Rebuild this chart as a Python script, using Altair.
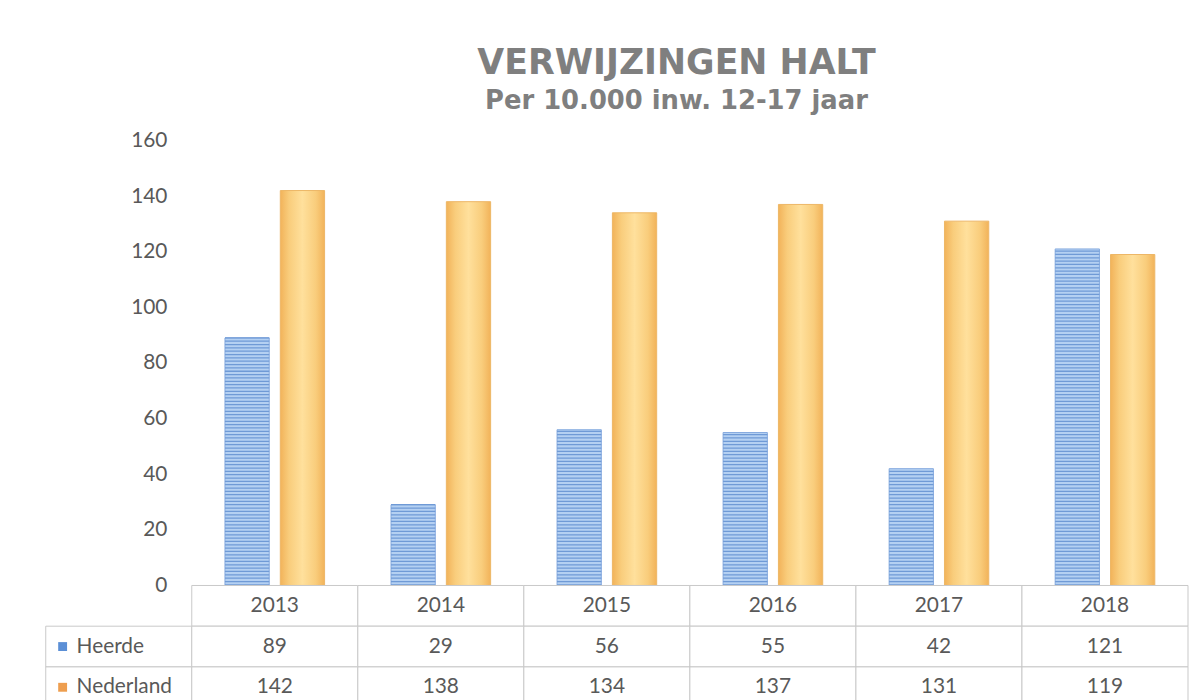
import altair as alt
import pandas as pd

# ---- data ----
years = ["2013", "2014", "2015", "2016", "2017", "2018"]
heerde = [89, 29, 56, 55, 42, 121]
nederland = [142, 138, 134, 137, 131, 119]
series = ["Heerde", "Nederland"]
rows = ["Jaar", "Heerde", "Nederland"]
y_ticks = [0, 20, 40, 60, 80, 100, 120, 140, 160]

bars_df = pd.DataFrame({
    "jaar": years * 2,
    "reeks": ["Heerde"] * len(years) + ["Nederland"] * len(years),
    "waarde": heerde + nederland,
})
table_df = pd.DataFrame({
    "jaar": years * 3,
    "rij": ["Jaar"] * len(years) + ["Heerde"] * len(years) + ["Nederland"] * len(years),
    "tekst": years + [str(v) for v in heerde] + [str(v) for v in nederland],
})
label_df = pd.DataFrame({"rij": series})

GRAY = "#595959"
LINE = "#C9C9C9"
FONT = "Lato"

# ---- bar chart ----
x_enc = alt.X("jaar:N", scale=alt.Scale(domain=years, paddingInner=0.4, paddingOuter=0.2), axis=None)
xo_enc = alt.XOffset("reeks:N", scale=alt.Scale(domain=series, paddingInner=0.2, paddingOuter=0))
y_scale = alt.Scale(domain=[0, 160], nice=False, zero=True)
y_axis = alt.Axis(values=y_ticks, grid=False, ticks=False, domain=False, labelPadding=25,
                  labelFlush=False, labelFontSize=21, labelColor=GRAY, labelFont=FONT, title=None)

base = alt.Chart(bars_df)

blue = base.transform_filter("datum.reeks === 'Heerde'").mark_bar(
    fill="#B4D0F2", stroke="#86AADF", strokeWidth=1
).encode(x=x_enc, xOffset=xo_enc, y=alt.Y("waarde:Q", scale=y_scale, axis=y_axis))

stripes = base.transform_filter("datum.reeks === 'Heerde'").transform_calculate(
    s="sequence(0, datum.waarde, 1.2)"
).transform_flatten(["s"]).transform_calculate(
    s2="datum.s + 0.45"
).mark_bar(fill="#6F9AD6").encode(
    x=x_enc, xOffset=xo_enc, y=alt.Y("s:Q", scale=y_scale, axis=y_axis), y2="s2:Q"
)

orange_fill = alt.Gradient(
    gradient="linear", x1=0, x2=1, y1=0, y2=0,
    stops=[
        alt.GradientStop(color="#F2B35A", offset=0),
        alt.GradientStop(color="#F9CD7C", offset=0.2),
        alt.GradientStop(color="#FFE09C", offset=0.5),
        alt.GradientStop(color="#F9CD7C", offset=0.8),
        alt.GradientStop(color="#F2B35A", offset=1),
    ],
)
orange = base.transform_filter("datum.reeks === 'Nederland'").mark_bar(
    fill=orange_fill, stroke="#EDB666", strokeWidth=1
).encode(x=x_enc, xOffset=xo_enc, y=alt.Y("waarde:Q", scale=y_scale, axis=y_axis))

top = alt.layer(blue, stripes, orange).properties(width=1003, height=448)

spacer = alt.Chart(label_df).mark_text(opacity=0).encode(text=alt.value("")).properties(width=147, height=448)

# ---- data table ----
tx = alt.X("jaar:N", scale=alt.Scale(domain=years, paddingInner=0, paddingOuter=0), axis=None)
ty = alt.Y("rij:N", scale=alt.Scale(domain=rows, paddingInner=0, paddingOuter=0), axis=None)
cells = alt.Chart(table_df).mark_rect(fill="white", stroke=LINE, strokeWidth=1).encode(x=tx, y=ty)
texts = alt.Chart(table_df).mark_text(font=FONT, fontSize=21, color=GRAY).encode(x=tx, y=ty, text="tekst:N")
table = alt.layer(cells, texts).properties(width=1003, height=123)

lcells = alt.Chart(label_df).mark_rect(fill="white", stroke=LINE, strokeWidth=1).encode(y=ty)
squares = alt.Chart(label_df).mark_square(size=80, opacity=1).encode(
    x=alt.value(17), y=ty,
    color=alt.Color("rij:N", scale=alt.Scale(domain=series, range=["#5B8FD6", "#EE9E4F"]), legend=None),
)
names = alt.Chart(label_df).mark_text(align="left", font=FONT, fontSize=21, color=GRAY).encode(
    x=alt.value(31), y=ty, text="rij:N"
)
labels = alt.layer(lcells, squares, names).properties(width=147, height=123)

chart = alt.concat(spacer, top, labels, table, columns=2, spacing=0, bounds="flush").properties(
    title=alt.TitleParams(
        text="VERWIJZINGEN HALT",
        subtitle="Per 10.000 inw. 12-17 jaar",
        font="DejaVu Sans", fontSize=35, fontWeight="bold", color="#7F7F7F",
        subtitleFont="DejaVu Sans", subtitleFontSize=26, subtitleFontWeight="bold",
        subtitleColor="#7F7F7F", subtitlePadding=7,
        anchor="middle", dx=60, offset=16,
    ),
    padding={"left": 37, "top": 36, "right": 0, "bottom": 0},
).configure_view(strokeWidth=0)

chart.save("out.html", embed_options={"renderer": "svg", "actions": False})
